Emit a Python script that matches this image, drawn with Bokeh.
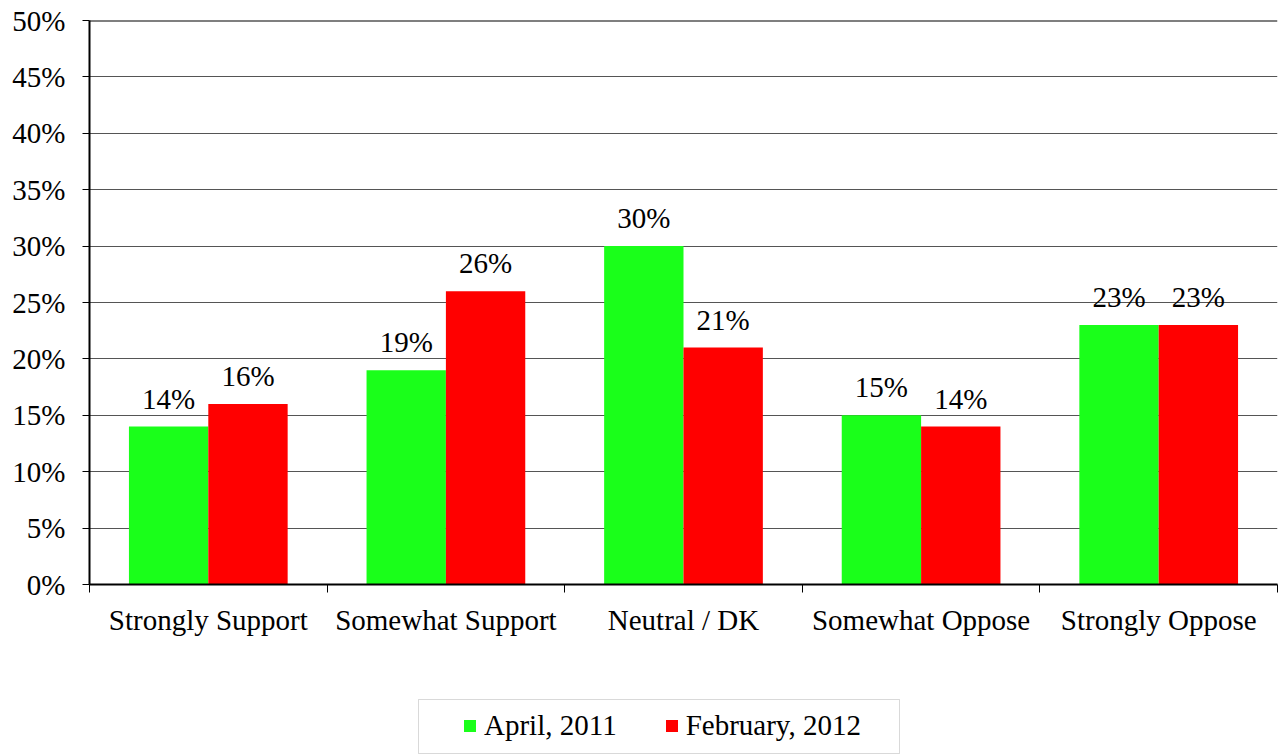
from bokeh.plotting import figure
from bokeh.layouts import column
from bokeh.models import (ColumnDataSource, FixedTicker, PrintfTickFormatter, Span,
                          LabelSet, Legend, LegendItem, Range1d, BoxAnnotation)
from bokeh.transform import dodge
from bokeh.embed import file_html
from bokeh.resources import INLINE

categories = ["Strongly Support", "Somewhat Support", "Neutral / DK",
              "Somewhat Oppose", "Strongly Oppose"]
april_2011 = [14, 19, 30, 15, 23]
february_2012 = [16, 26, 21, 14, 23]
series_names = ["April, 2011", "February, 2012"]
y_ticks = [0, 5, 10, 15, 20, 25, 30, 35, 40, 45, 50]

FONT = "Liberation Serif"
FS = "29px"
GREEN = "#1AFF1A"
RED = "#FF0000"

xs = [i + 0.5 for i in range(len(categories))]
src = ColumnDataSource(dict(
    x=xs,
    a=april_2011,
    b=february_2012,
    alab=[f"{v}%" for v in april_2011],
    blab=[f"{v}%" for v in february_2012],
))

p = figure(width=1278, height=660, output_backend="svg",
           toolbar_location=None,
           x_range=Range1d(0, len(categories)), y_range=Range1d(0, 50),
           min_border_left=89, min_border_right=1, min_border_top=20,
           min_border_bottom=76, outline_line_color=None)

bw = 0.334
r1 = p.vbar(x=dodge("x", -bw / 2), top="a", width=bw, source=src,
            fill_color=GREEN, line_color=None)
r2 = p.vbar(x=dodge("x", bw / 2), top="b", width=bw, source=src,
            fill_color=RED, line_color=None)

for col, off in (("alab", -bw / 2), ("blab", bw / 2)):
    top = "a" if col == "alab" else "b"
    p.add_layout(LabelSet(x=dodge("x", off), y=top, text=col, source=src,
                          text_align="center", text_baseline="alphabetic",
                          y_offset=18, text_font=FONT, text_font_size=FS,
                          text_color="black"))

# y axis
p.yaxis.ticker = FixedTicker(ticks=y_ticks)
p.yaxis.formatter = PrintfTickFormatter(format="%d%%")
p.yaxis.axis_line_color = "black"
p.yaxis.axis_line_width = 2
p.yaxis.major_tick_out = 7
p.yaxis.major_tick_in = 0
p.yaxis.major_tick_line_color = "black"
p.yaxis.minor_tick_line_color = None
p.yaxis.major_label_text_font = FONT
p.yaxis.major_label_text_font_size = FS
p.yaxis.major_label_text_color = "black"
p.yaxis.major_label_standoff = 17

# x axis
p.xaxis.ticker = FixedTicker(ticks=xs, minor_ticks=list(range(len(categories) + 1)))
p.xaxis.major_label_overrides = {x: c for x, c in zip(xs, categories)}
p.xaxis.axis_line_color = "black"
p.xaxis.axis_line_width = 2
p.xaxis.major_tick_line_color = None
p.xaxis.major_tick_out = 0
p.xaxis.major_tick_in = 0
p.xaxis.minor_tick_line_color = "black"
p.xaxis.minor_tick_out = 8
p.xaxis.minor_tick_in = 0
p.xaxis.major_label_text_font = FONT
p.xaxis.major_label_text_font_size = FS
p.xaxis.major_label_text_color = "black"
p.xaxis.major_label_standoff = 11

p.xgrid.grid_line_color = None
p.ygrid.ticker = FixedTicker(ticks=y_ticks[1:-1])
p.ygrid.grid_line_color = "#555555"
p.ygrid.grid_line_width = 1

p.add_layout(Span(location=50, dimension="width", line_color="black", line_width=2))

# legend strip below the chart (page-pixel coordinates; frame aligned with chart)
lg = figure(width=1278, height=96, output_backend="svg", toolbar_location=None,
            x_range=Range1d(89, 1277), y_range=Range1d(756, 660),
            x_axis_location=None, y_axis_location=None,
            min_border_left=89, min_border_right=1, min_border_top=0,
            min_border_bottom=0, outline_line_color=None)
lg.grid.visible = False
l1 = lg.vbar(x="x", top="a", width=bw, source=src, fill_color=GREEN,
             line_color=None, visible=False)
l2 = lg.vbar(x="x", top="b", width=bw, source=src, fill_color=RED,
             line_color=None, visible=False)

lg.add_layout(BoxAnnotation(left=418, right=899, top=699, bottom=753,
                            fill_color=None, fill_alpha=0,
                            line_color="#808080", line_width=1))

legend = Legend(items=[LegendItem(label=series_names[0], renderers=[l1]),
                       LegendItem(label=series_names[1], renderers=[l2])],
                orientation="horizontal", location=(373, 14),
                label_text_font=FONT, label_text_font_size=FS,
                label_text_color="black", glyph_width=15, glyph_height=15,
                label_standoff=7, spacing=47, padding=10, margin=0,
                border_line_color=None, background_fill_color=None)
lg.add_layout(legend, "center")

layout = column(p, lg, spacing=0)
open("out.html", "w").write(file_html(layout, INLINE))
